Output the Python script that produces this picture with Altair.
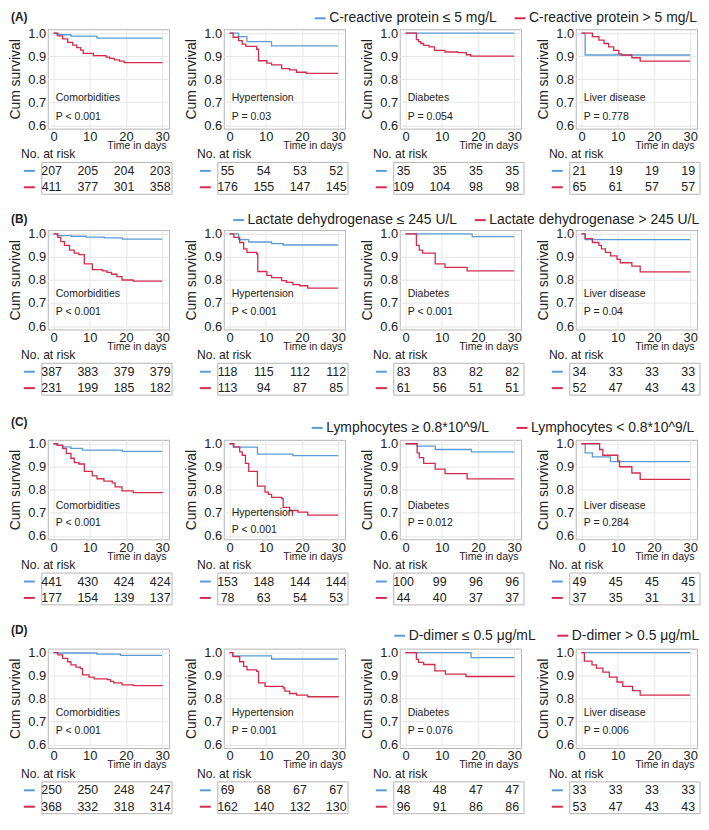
import altair as alt
import pandas as pd

FONT = "Liberation Sans"
BLUE = "#5b9bd5"
RED = "#d42b4c"
TXT = "#222222"
W, H = 122, 100

ROW_TAGS = ["(A)", "(B)", "(C)", "(D)"]
PANELS = ["Comorbidities", "Hypertension", "Diabetes", "Liver disease"]
LEGEND_LABELS = [
    ["C-reactive protein ≤ 5 mg/L", "C-reactive protein > 5 mg/L"],
    ["Lactate dehydrogenase ≤ 245 U/L", "Lactate dehydrogenase > 245 U/L"],
    ["Lymphocytes ≥ 0.8*10^9/L", "Lymphocytes < 0.8*10^9/L"],
    ["D-dimer ≤ 0.5 μg/mL", "D-dimer > 0.5 μg/mL"],
]
P_VALUES = [
    ["P < 0.001", "P = 0.03", "P = 0.054", "P = 0.778"],
    ["P < 0.001", "P < 0.001", "P < 0.001", "P = 0.04"],
    ["P < 0.001", "P < 0.001", "P = 0.012", "P = 0.284"],
    ["P < 0.001", "P = 0.001", "P = 0.076", "P = 0.006"],
]
RISK_TIMES = [0, 10, 20, 30]
RISK_LOW = [
    [[207, 205, 204, 203], [55, 54, 53, 52], [35, 35, 35, 35], [21, 19, 19, 19]],
    [[387, 383, 379, 379], [118, 115, 112, 112], [83, 83, 82, 82], [34, 33, 33, 33]],
    [[441, 430, 424, 424], [153, 148, 144, 144], [100, 99, 96, 96], [49, 45, 45, 45]],
    [[250, 250, 248, 247], [69, 68, 67, 67], [48, 48, 47, 47], [33, 33, 33, 33]],
]
RISK_HIGH = [
    [[411, 377, 301, 358], [176, 155, 147, 145], [109, 104, 98, 98], [65, 61, 57, 57]],
    [[231, 199, 185, 182], [113, 94, 87, 85], [61, 56, 51, 51], [52, 47, 43, 43]],
    [[177, 154, 139, 137], [78, 63, 54, 53], [44, 40, 37, 37], [37, 35, 31, 31]],
    [[368, 332, 318, 314], [162, 140, 132, 130], [96, 91, 86, 86], [53, 47, 43, 43]],
]

# Kaplan-Meier step points (time in days, cumulative survival)
A_COMORB_LOW = [(0, 1.0), (0.8, 0.993), (4.8, 0.987), (12, 0.978), (30, 0.978)]
A_COMORB_HIGH = [(0, 1.0), (1.2, 0.988), (2.5, 0.975), (3.9, 0.96), (5.3, 0.948), (6.4, 0.937),
                 (7.5, 0.926), (8.2, 0.912), (11, 0.902), (14.5, 0.896), (15.5, 0.89), (16.8, 0.884),
                 (18.2, 0.878), (19.5, 0.872), (30, 0.871)]
A_HYP_LOW = [(0, 1.0), (2.5, 0.985), (4.8, 0.963), (11.6, 0.945), (30, 0.945)]
A_HYP_HIGH = [(0, 1.0), (1, 0.982), (2.5, 0.967), (3.5, 0.952), (4.5, 0.942), (7.5, 0.93), (8, 0.88),
              (10.3, 0.87), (11.6, 0.862), (14.4, 0.846), (16.6, 0.84), (18.5, 0.83), (21.2, 0.825),
              (30, 0.825)]
A_DIA_LOW = [(0, 1.0), (30, 1.0)]
A_DIA_HIGH = [(0, 1.0), (3, 0.972), (3.6, 0.963), (4.2, 0.955), (5, 0.947), (6.5, 0.94), (8, 0.925),
              (10.9, 0.918), (14.5, 0.915), (16.8, 0.906), (18, 0.9), (30, 0.9)]
A_LIV_LOW = [(0, 1.0), (1, 0.905), (30, 0.905)]
A_LIV_HIGH = [(0, 1.0), (3, 0.985), (4.8, 0.97), (6.2, 0.955), (7.5, 0.94), (8.9, 0.925), (10.3, 0.91),
              (11, 0.905), (13.9, 0.893), (16.2, 0.878), (30, 0.878)]

B_COMORB_LOW = [(0, 1.0), (1, 0.993), (5, 0.99), (9, 0.986), (14, 0.983), (19, 0.978), (30, 0.978)]
B_COMORB_HIGH = [(0, 1.0), (1.2, 0.985), (2, 0.967), (3, 0.95), (4.4, 0.93), (5.7, 0.917), (7, 0.91),
                 (8.5, 0.87), (10.7, 0.845), (13.5, 0.84), (14.8, 0.833), (16, 0.825), (17.5, 0.815),
                 (18.9, 0.8), (22, 0.795), (30, 0.795)]
B_HYP_LOW = [(0, 1.0), (2.5, 0.975), (5.3, 0.965), (11.6, 0.958), (14.8, 0.952), (30, 0.952)]
B_HYP_HIGH = [(0, 1.0), (1.2, 0.985), (2.8, 0.963), (3.9, 0.935), (4.8, 0.92), (7.5, 0.913), (7.8, 0.837),
              (10.3, 0.82), (11.6, 0.81), (14.4, 0.797), (15.7, 0.79), (17.5, 0.78), (19.4, 0.775),
              (21.6, 0.765), (30, 0.765)]
B_DIA_LOW = [(0, 1.0), (18.4, 0.988), (30, 0.988)]
B_DIA_HIGH = [(0, 1.0), (3, 0.95), (3.8, 0.93), (4.7, 0.917), (8.2, 0.87), (10.9, 0.855), (17, 0.84),
              (30, 0.84)]
B_LIV_LOW = [(0, 1.0), (1, 0.975), (30, 0.975)]
B_LIV_HIGH = [(0, 1.0), (1, 0.98), (3, 0.963), (4.8, 0.95), (5.5, 0.935), (6.6, 0.92), (8, 0.905),
              (9.8, 0.89), (10.7, 0.875), (13.9, 0.86), (16.2, 0.835), (30, 0.835)]

C_COMORB_LOW = [(0, 1.0), (1.2, 0.993), (2.5, 0.986), (4.8, 0.98), (8, 0.972), (19, 0.967), (30, 0.967)]
C_COMORB_HIGH = [(0, 1.0), (1, 0.993), (2.5, 0.98), (3.5, 0.958), (4.8, 0.937), (5.7, 0.918), (7, 0.912),
                 (8.5, 0.88), (10.7, 0.86), (12, 0.848), (13.9, 0.838), (16.2, 0.83), (17, 0.813),
                 (18.9, 0.795), (22, 0.788), (30, 0.786)]
C_HYP_LOW = [(0, 1.0), (1, 0.985), (7.7, 0.955), (17.5, 0.948), (30, 0.948)]
C_HYP_HIGH = [(0, 1.0), (1.2, 0.986), (2.8, 0.965), (3.5, 0.95), (4.4, 0.915), (5.3, 0.88), (7.7, 0.816),
              (9.8, 0.79), (10.7, 0.78), (11.6, 0.767), (14.4, 0.762), (14.8, 0.724), (16.6, 0.71),
              (18.9, 0.703), (21.6, 0.69), (30, 0.69)]
C_DIA_LOW = [(0, 1.0), (3.2, 0.99), (8.2, 0.975), (18.2, 0.965), (30, 0.965)]
C_DIA_HIGH = [(0, 1.0), (3.2, 0.96), (3.8, 0.94), (5, 0.915), (8.2, 0.89), (10.9, 0.87), (17, 0.847),
              (30, 0.847)]
C_LIV_LOW = [(0, 1.0), (1, 0.96), (3, 0.943), (8, 0.922), (30, 0.922)]
C_LIV_HIGH = [(0, 1.0), (5, 0.975), (5.9, 0.95), (10, 0.925), (10.5, 0.9), (13.9, 0.873), (16.2, 0.845),
              (30, 0.845)]

D_COMORB_LOW = [(0, 1.0), (1, 0.998), (12, 0.993), (18.5, 0.988), (30, 0.988)]
D_COMORB_HIGH = [(0, 1.0), (1.2, 0.99), (2.5, 0.975), (3.9, 0.96), (4.8, 0.946), (6.2, 0.937), (7.4, 0.93),
                 (8, 0.903), (9.8, 0.893), (11.2, 0.886), (14.8, 0.882), (15.7, 0.875), (16.6, 0.868),
                 (18.9, 0.86), (22, 0.856), (30, 0.855)]
D_HYP_LOW = [(0, 1.0), (0.9, 0.986), (11.6, 0.972), (30, 0.972)]
D_HYP_HIGH = [(0, 1.0), (0.9, 0.982), (2.8, 0.96), (3.9, 0.94), (4.8, 0.925), (7.5, 0.918), (8, 0.868),
              (9.8, 0.853), (14.8, 0.846), (15.3, 0.832), (16.6, 0.822), (18.5, 0.815), (21.6, 0.808),
              (30, 0.806)]
D_DIA_LOW = [(0, 1.0), (18.1, 0.978), (30, 0.978)]
D_DIA_HIGH = [(0, 1.0), (3, 0.97), (3.6, 0.957), (5, 0.948), (8.1, 0.92), (11, 0.906), (16.7, 0.896),
              (30, 0.895)]
D_LIV_LOW = [(0, 1.0), (30, 1.0)]
D_LIV_HIGH = [(0, 1.0), (0.8, 0.963), (2.9, 0.946), (4.1, 0.932), (5.9, 0.915), (7.7, 0.893), (9.8, 0.872),
              (11.4, 0.853), (14.1, 0.835), (16.2, 0.815), (30, 0.815)]

CURVES = [
    [(A_COMORB_LOW, A_COMORB_HIGH), (A_HYP_LOW, A_HYP_HIGH), (A_DIA_LOW, A_DIA_HIGH), (A_LIV_LOW, A_LIV_HIGH)],
    [(B_COMORB_LOW, B_COMORB_HIGH), (B_HYP_LOW, B_HYP_HIGH), (B_DIA_LOW, B_DIA_HIGH), (B_LIV_LOW, B_LIV_HIGH)],
    [(C_COMORB_LOW, C_COMORB_HIGH), (C_HYP_LOW, C_HYP_HIGH), (C_DIA_LOW, C_DIA_HIGH), (C_LIV_LOW, C_LIV_HIGH)],
    [(D_COMORB_LOW, D_COMORB_HIGH), (D_HYP_LOW, D_HYP_HIGH), (D_DIA_LOW, D_DIA_HIGH), (D_LIV_LOW, D_LIV_HIGH)],
]

# layout / style constants (pixels)
LABEL_Y = [[0.69] * 4, [0.64] * 4, [0.665, 0.735, 0.665, 0.665], [0.65] * 4]
PVAL_Y = [[0.88] * 4, [0.82] * 4, [0.84, 0.91, 0.84, 0.84], [0.83] * 4]
TAG_Y = [-12, -11, -18, -19]
LEG_X = [90, 8, 87, 170]
LEG_Y = [-18, -17, -19, -20]
LEG_PAD = [13, 13, 23, 17]
PANEL_SPACING = 55
ROW_STEP_A = 202   # top-to-top distance row A -> row B
ROW_STEPS = [211, 210]

ONE = pd.DataFrame({"k": [0]})


def panel(ri, ci):
    labels = LEGEND_LABELS[ri]
    low, high = CURVES[ri][ci]
    curve = pd.DataFrame(
        [{"t": t, "s": s, "grp": labels[0]} for t, s in low]
        + [{"t": t, "s": s, "grp": labels[1]} for t, s in high]
    )
    risk = pd.DataFrame(
        [{"t": t, "n": n, "grp": labels[0]} for t, n in zip(RISK_TIMES, RISK_LOW[ri][ci])]
        + [{"t": t, "n": n, "grp": labels[1]} for t, n in zip(RISK_TIMES, RISK_HIGH[ri][ci])]
    )
    dash = pd.DataFrame({"grp": labels})

    cscale = alt.Scale(domain=labels, range=[BLUE, RED])
    xscale = alt.Scale(domain=[-1.6, 31.9], nice=False, zero=False)
    yscale = alt.Scale(domain=[0.585, 1.017], nice=False, zero=False)
    tscale = alt.Scale(type="point", domain=labels, range=[H + 42.5, H + 59], padding=0)
    xaxis = alt.Axis(values=RISK_TIMES, title="Time in days", titleX=W - 3, titleY=17,
                     titleAlign="right", titleBaseline="middle", titleFontSize=10.6,
                     labelFontSize=13, labelPadding=2, labelFlush=False, grid=True)
    yaxis = alt.Axis(values=[0.6, 0.7, 0.8, 0.9, 1.0], format=".1f", title="Cum survival",
                     titleFontSize=14, labelFontSize=13, labelPadding=2, titlePadding=5, grid=True)
    if ci == 1:
        legend = alt.Legend(orient="none", legendX=LEG_X[ri], legendY=LEG_Y[ri], direction="horizontal",
                            title=None, symbolType="stroke", symbolSize=121, symbolStrokeWidth=2,
                            labelFontSize=14, labelFont=FONT, labelOffset=2, labelColor=TXT,
                            columnPadding=LEG_PAD[ri], labelLimit=400, padding=0)
    else:
        legend = None

    x_enc = alt.X("t:Q", scale=xscale, axis=xaxis)
    lines = alt.Chart(curve).mark_line(interpolate="step-after", strokeWidth=1.3).encode(
        x=x_enc,
        y=alt.Y("s:Q", scale=yscale, axis=yaxis),
        color=alt.Color("grp:N", scale=cscale, legend=legend),
    )
    txt = dict(font=FONT, color=TXT, align="left", baseline="middle")
    name = alt.Chart(ONE).mark_text(fontSize=10.6, **txt).encode(
        x=alt.value(8), y=alt.value(H * LABEL_Y[ri][ci]), text=alt.value(PANELS[ci]))
    pval = alt.Chart(ONE).mark_text(fontSize=10.6, **txt).encode(
        x=alt.value(8), y=alt.value(H * PVAL_Y[ri][ci]), text=alt.value(P_VALUES[ri][ci]))
    box = alt.Chart(ONE).mark_rect(fillOpacity=0, stroke="#b3b3b3", strokeWidth=1).encode(
        x=alt.value(-6), x2=alt.value(W + 3), y=alt.value(H + 34), y2=alt.value(H + 66))
    nar = alt.Chart(ONE).mark_text(fontSize=12.2, **txt).encode(
        x=alt.value(-27), y=alt.value(H + 26), text=alt.value("No. at risk"))
    dashes = alt.Chart(dash).mark_rule(strokeWidth=2).encode(
        x=alt.value(-24), x2=alt.value(-13),
        y=alt.Y("grp:N", scale=tscale, axis=None),
        color=alt.Color("grp:N", scale=cscale, legend=None),
    )
    nums = alt.Chart(risk).mark_text(font=FONT, fontSize=12.5, color=TXT, baseline="middle", dx=-2).encode(
        x=x_enc,
        y=alt.Y("grp:N", scale=tscale, axis=None),
        text="n:Q",
    )
    layers = [lines, name, pval, box, nar, dashes, nums]
    if ci == 0:
        tag = alt.Chart(ONE).mark_text(fontSize=12, fontWeight="bold", **txt).encode(
            x=alt.value(-37), y=alt.value(TAG_Y[ri]), text=alt.value(ROW_TAGS[ri]))
        layers.append(tag)
    return alt.layer(*layers).resolve_scale(y="independent", color="independent").properties(
        width=W, height=H)


def row(ri):
    return alt.hconcat(*[panel(ri, ci) for ci in range(4)], spacing=PANEL_SPACING,
                       bounds="flush").resolve_scale(color="independent")


# nested concat groups count as zero height under flush bounds, so spacing = top-to-top distance
rest_cd = alt.vconcat(row(2), row(3), spacing=ROW_STEPS[1], bounds="flush").resolve_scale(color="independent")
rest = alt.vconcat(row(1), rest_cd, spacing=ROW_STEPS[0], bounds="flush").resolve_scale(color="independent")
chart = alt.vconcat(row(0), rest, spacing=ROW_STEP_A, bounds="flush").resolve_scale(
    color="independent"
).configure(padding=0).configure_view(stroke="#b3b3b3", strokeWidth=1).configure_axis(
    labelFont=FONT, titleFont=FONT, labelColor=TXT, titleColor=TXT, titleFontWeight="normal",
    gridColor="#e6e6e6", gridWidth=1, domain=False, ticks=False,
).properties(padding=0, autosize=alt.AutoSizeParams(type="pad"))

chart.save("out.html", embed_options={"renderer": "svg", "actions": False})
